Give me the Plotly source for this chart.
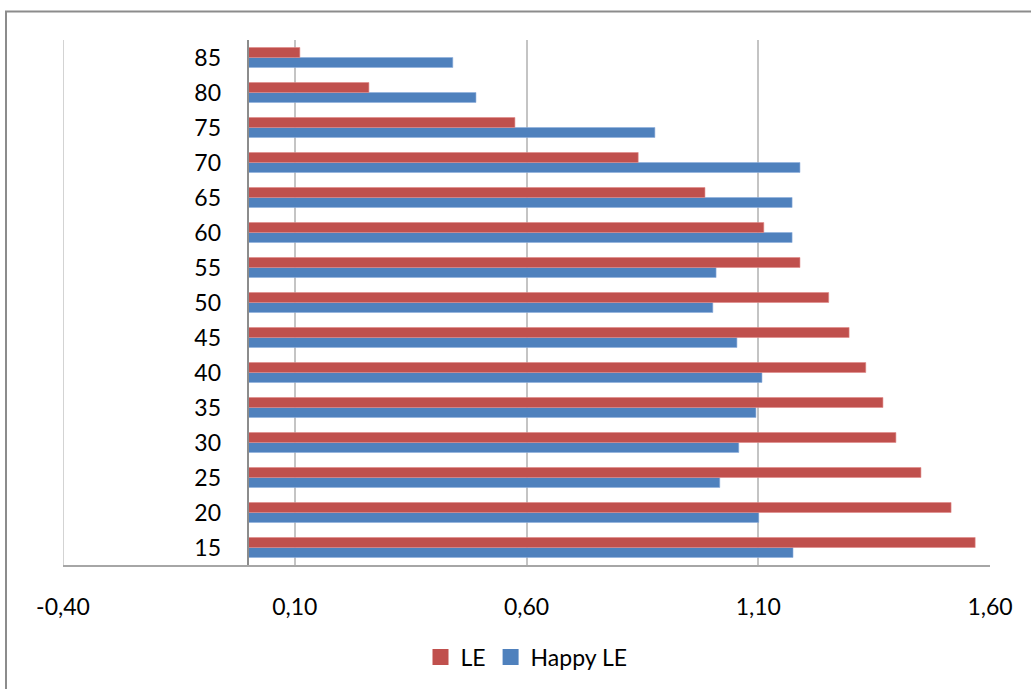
import plotly.graph_objects as go

# Age groups (bottom to top) and the two series
ages = ["15", "20", "25", "30", "35", "40", "45", "50", "55", "60", "65", "70", "75", "80", "85"]
le = [1.568, 1.516, 1.451, 1.397, 1.369, 1.332, 1.296, 1.252, 1.190, 1.112, 0.985, 0.841, 0.575, 0.260, 0.111]
happy_le = [1.175, 1.101, 1.017, 1.058, 1.095, 1.108, 1.054, 1.002, 1.009, 1.173, 1.173, 1.190, 0.877, 0.491, 0.441]

x_ticks = [-0.40, 0.10, 0.60, 1.10, 1.60]
x_tick_text = ["-0,40", "0,10", "0,60", "1,10", "1,60"]

RED = "#C0504D"
BLUE = "#4F81BD"
FONT = "Lato"
FSIZE = 23

fig = go.Figure()
fig.add_trace(go.Bar(
    y=ages, x=happy_le, name="Happy LE", orientation="h", showlegend=False,
    marker=dict(color=BLUE, line=dict(color="#8FAEDB", width=0.6)),
))
fig.add_trace(go.Bar(
    y=ages, x=le, name="LE", orientation="h", showlegend=False,
    marker=dict(color=RED, line=dict(color="#E08A88", width=0.6)),
))

# legend entries with larger square keys
for name, color in [("LE", RED), ("Happy LE", BLUE)]:
    fig.add_trace(go.Scatter(
        x=[None], y=[None], mode="markers", name=name,
        marker=dict(symbol="square", size=16, color=color),
    ))

x_min, x_max = -0.40, 1.60
zero_pos = (0 - x_min) / (x_max - x_min)

fig.update_layout(
    width=1031, height=689,
    margin=dict(l=63, r=41, t=40, b=123),
    paper_bgcolor="white", plot_bgcolor="white",
    barmode="group", bargap=0.43, bargroupgap=0,
    font=dict(family=FONT, size=FSIZE, color="black"),
    showlegend=True,
    legend=dict(
        orientation="h", traceorder="normal",
        x=0.5, xanchor="center", y=-0.173, yanchor="middle",
        font=dict(family=FONT, size=FSIZE, color="black"),
        itemwidth=30, bgcolor="rgba(0,0,0,0)",
    ),
    xaxis=dict(
        range=[x_min, x_max], tickvals=x_ticks, ticktext=x_tick_text,
        showgrid=True, gridcolor="#C4C4C4", gridwidth=1.5,
        zeroline=False, showline=True, linecolor="#A6A6A6", linewidth=1.5,
        ticks="", ticklabelstandoff=21,
        tickfont=dict(family=FONT, size=FSIZE, color="black"),
    ),
    yaxis=dict(
        type="category", categoryorder="array", categoryarray=ages,
        range=[-0.5, len(ages) - 0.5],
        anchor="free", position=zero_pos,
        showgrid=False, zeroline=False,
        showline=True, linecolor="#8C8C8C", linewidth=1.5,
        ticks="", ticklabelstandoff=22,
        tickfont=dict(family=FONT, size=FSIZE, color="black"),
    ),
    shapes=[
        # gridline at the left edge of the value range
        dict(type="line", xref="x", yref="paper", x0=x_min, x1=x_min, y0=0, y1=1,
             line=dict(color="#C4C4C4", width=1.5), layer="below"),
        # outer chart frame (top and left edges are inside the window)
        dict(type="rect", xref="paper", yref="paper",
             x0=(6 - 63) / 927, x1=1.2, y0=-0.4, y1=(566 - 11.5) / 526,
             line=dict(color="#8C8C8C", width=2), fillcolor="rgba(0,0,0,0)",
             layer="below"),
    ],
)

fig.write_html("out.html")
